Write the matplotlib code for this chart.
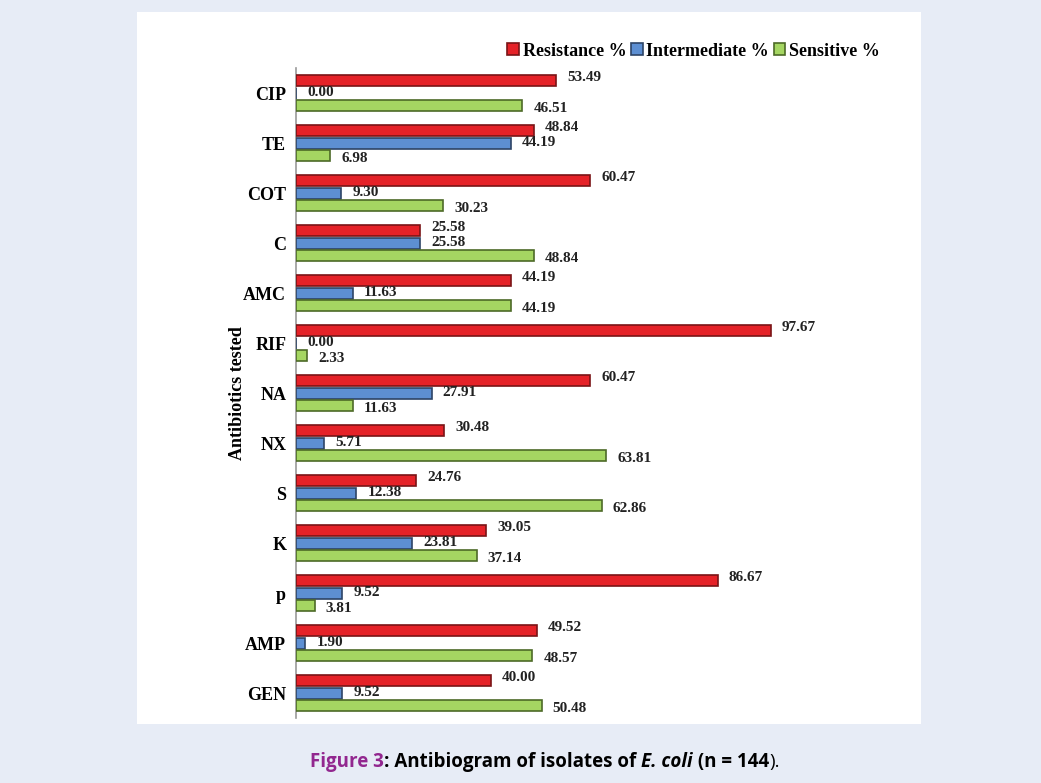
import matplotlib
matplotlib.use("Agg")
import matplotlib.pyplot as plt
from matplotlib.patches import Rectangle
import numpy as np

antibiotics = ["CIP", "TE", "COT", "C", "AMC", "RIF", "NA", "NX", "S", "K", "p", "AMP", "GEN"]
resistance = [53.49, 48.84, 60.47, 25.58, 44.19, 97.67, 60.47, 30.48, 24.76, 39.05, 86.67, 49.52, 40.00]
intermediate = [0.00, 44.19, 9.30, 25.58, 11.63, 0.00, 27.91, 5.71, 12.38, 23.81, 9.52, 1.90, 9.52]
sensitive = [46.51, 6.98, 30.23, 48.84, 44.19, 2.33, 11.63, 63.81, 62.86, 37.14, 3.81, 48.57, 50.48]
series_names = ["Resistance %", "Intermediate %", "Sensitive %"]

W, H = 1041, 783
fig = plt.figure(figsize=(W / 100, H / 100), dpi=100)
fig.patch.set_facecolor("#e7ecf6")
# white panel
fig.add_artist(Rectangle((137 / W, 1 - 724 / H), (921 - 137) / W, (724 - 12) / H,
                         transform=fig.transFigure, facecolor="white", edgecolor="none", zorder=0))

ax = fig.add_axes([296 / W, 1 - 718 / H, 583.6 / W, 650 / H])
ax.set_facecolor("none")
serif = "Liberation Serif"

y = np.arange(len(antibiotics))
off = 0.25
h = 0.22
colors = ["#e52228", "#5d8fd2", "#a5d662"]
edges = ["#7a1416", "#2d4466", "#4d6a27"]
datas = [resistance, intermediate, sensitive]
offs = [-off, 0, off]
dys = [2.5, 0, -2.5]
for d, o, dy, c, e, n in zip(datas, offs, dys, colors, edges, series_names):
    ax.barh(y + o, d, height=h, color=c, edgecolor=e, linewidth=1.2, label=n, zorder=3)
    for yi, v in zip(y, d):
        ax.annotate(f"{v:.2f}", (v, yi + o), xytext=(8, dy), textcoords="offset points",
                    ha="left", va="center", fontsize=11, fontweight="bold",
                    family=serif, color="#222222")

ax.set_xlim(0, 120)
ax.set_ylim(len(antibiotics) - 0.5, -0.5)
ax.set_yticks(y)
ax.set_yticklabels(antibiotics, fontsize=13, fontweight="bold", family=serif)
ax.tick_params(axis="y", length=0, pad=7)
ax.set_xticks([])
for s in ["top", "right", "bottom"]:
    ax.spines[s].set_visible(False)
ax.spines["left"].set_color("#9a9a9a")
ax.spines["left"].set_linewidth(1.2)
ax.set_ylabel("Antibiotics tested", fontsize=13, fontweight="bold", family=serif, labelpad=-2)

leg = fig.legend(loc="center right", bbox_to_anchor=(887 / W, 1 - 51 / H), ncol=3,
                 frameon=False, prop={"family": serif, "weight": "bold", "size": 13},
                 handlelength=0.65, handleheight=0.65, handletextpad=0.2, columnspacing=0.25,
                 borderaxespad=0)

# caption
fig.canvas.draw()
r = fig.canvas.get_renderer()
parts = [("Figure 3", "#92278f", "normal", "bold"), (": Antibiogram of isolates of ", "black", "normal", "bold"),
         ("E. coli", "black", "italic", "bold"), (" (n = 144", "black", "normal", "bold"),
         (").", "black", "normal", "normal")]
texts = []
for s, c, st, wt in parts:
    t = fig.text(0, 1 - 762 / H, s, color=c, fontsize=13.5, fontweight=wt, fontstyle=st,
                 family="Open Sans", va="center", ha="left")
    texts.append(t)
widths = [t.get_window_extent(r).width for t in texts]
total = sum(widths)
x0 = 545 - total / 2
for t, w in zip(texts, widths):
    t.set_x(x0 / W)
    x0 += w

fig.savefig("out.png", dpi=100, facecolor=fig.get_facecolor())
